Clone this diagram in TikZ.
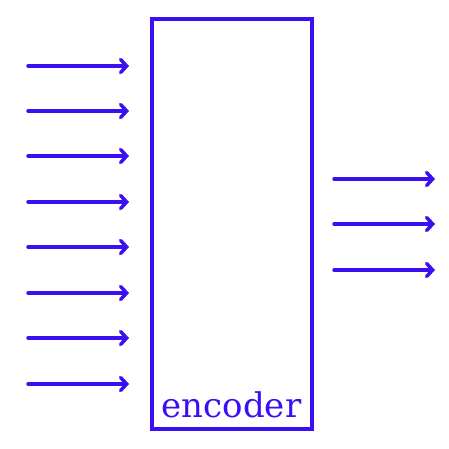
\documentclass[tikz,border=0pt]{standalone}
\usepackage{fontspec}
\usepackage{tikz}
\usetikzlibrary{arrows.meta,positioning,calc}
\newfontfamily\encfont{DejaVu Serif}
\definecolor{encblue}{HTML}{3A10F2}
\tikzset{
  block/.style={draw=encblue, line width=4pt, minimum width=160pt,
                minimum height=409pt, inner sep=0pt},
  blocklabel/.style={text=encblue, font=\encfont\fontsize{34}{38}\selectfont, inner sep=0pt},
  flow/.style={-{Straight Barb[length=6pt, width=13pt, line cap=round]},
               line width=3.5pt, draw=encblue, line cap=round},
}
\begin{document}
\begin{tikzpicture}[x=1pt, y=1pt]
\useasboundingbox (0,0) rectangle (449,448);
\node[block] (enc) at (231.5,224) {};
\node[blocklabel, anchor=base] (name) at ($(enc.south)+(0,13)$) {encoder};

% inputs on the left
\foreach \i/\y in {1/382, 2/337, 3/292, 4/246, 5/201, 6/155, 7/110, 8/64} {
  \coordinate (in\i) at (28,\y);
  \coordinate (inend\i) at (129,\y);
  \draw[flow] (in\i) -- (inend\i);
}
% outputs on the right
\foreach \i/\y in {1/269, 2/224, 3/178} {
  \coordinate (out\i) at (334,\y);
  \coordinate (outend\i) at (435,\y);
  \draw[flow] (out\i) -- (outend\i);
}
\end{tikzpicture}
\end{document}
